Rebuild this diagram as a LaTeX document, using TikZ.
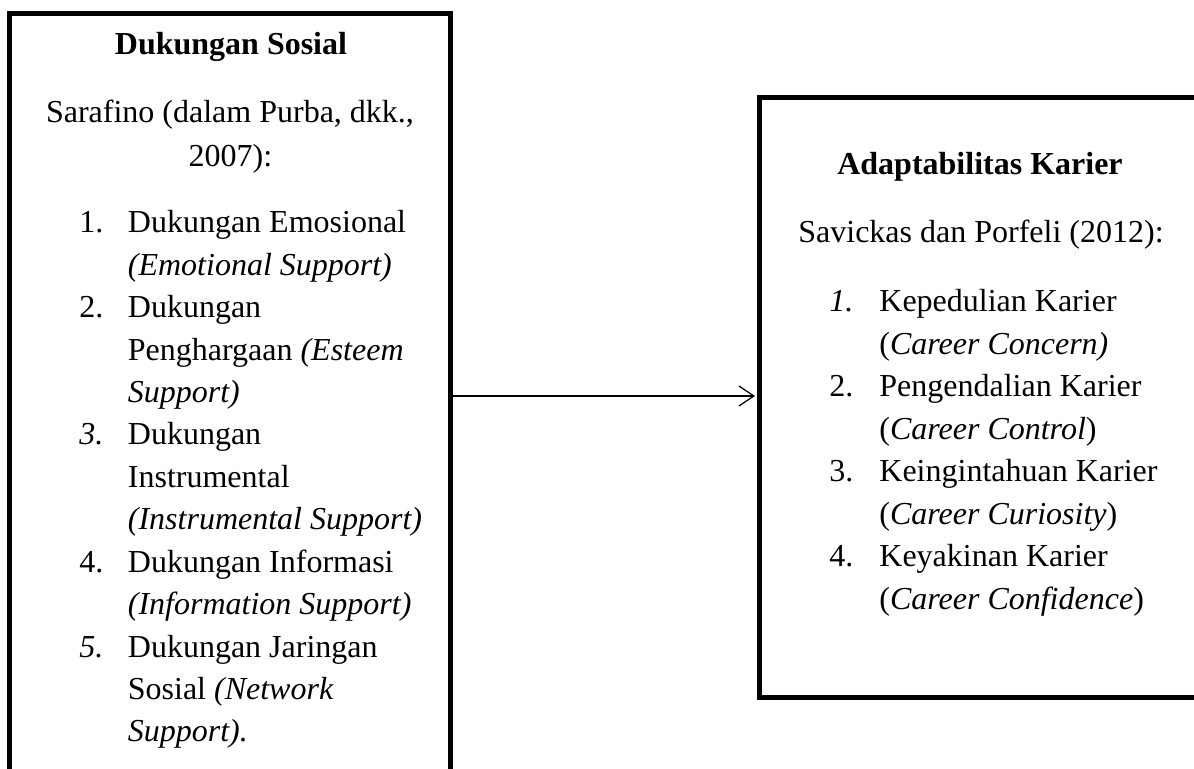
\documentclass[tikz,border=0pt]{standalone}
\usepackage{fontspec}
\setmainfont{Liberation Serif}
\usetikzlibrary{positioning, arrows.meta}
\newcommand{\bodyFont}{\fontsize{16}{21.2}\selectfont}
\tikzstyle{diagram} = [x = .5pt, y = -.5pt]
\tikzstyle{frameStyle} = [draw = black, line width = 2.5pt, inner sep = 0pt]
\tikzstyle{lineText} = [font = \bodyFont, inner sep = 0pt, anchor = base west]
\tikzstyle{centerText} = [lineText, anchor = base]
\tikzstyle{headText} = [centerText, font = \bodyFont\bfseries]
\tikzstyle{linkStyle} = [line width = .6pt, -{Straight Barb[length = 7.5pt, width = 10pt]}, shorten > = 1pt]
\newcommand{\leftSkip}{42.4}
\newcommand{\rightSkip}{42.43}

\begin{document}
\begin{tikzpicture}[diagram]
  \useasboundingbox (0,0) rectangle (1194,769);
  \clip (0,0) rectangle (1194,769);

  % kotak
  \node [frameStyle, minimum width = 220.25pt, minimum height = 382.5pt] (sosial) at (229.75,396) {};
  \node [frameStyle, minimum width = 227.75pt, minimum height = 300pt] (karier) at (987.25,397.5) {};
  \draw [linkStyle] (sosial.east) -- (sosial.east -| karier.west);

  % dukungan sosial
  \node [headText] (sosialTitle) at (231,55) {Dukungan Sosial};
  \node [centerText] (sosialSource) at (230,123) {Sarafino (dalam Purba, dkk.,};
  \node [centerText] (sosialYear) at (230.5,167) {2007):};
  \foreach \num/\row in {1./0, 2./2, \textit{3.}/5, 4./8, \textit{5.}/10} {
    \node [lineText] (sosialNum\row) at (79, 233 + \row * \leftSkip) {\num};
  }
  \foreach \txt [count = \row from 0] in {
      {Dukungan Emosional}, {\textit{(Emotional Support)}},
      {Dukungan}, {Penghargaan \textit{(Esteem}}, {\textit{Support)}},
      {Dukungan}, {Instrumental}, {\textit{(Instrumental Support)}},
      {Dukungan Informasi}, {\textit{(Information Support)}},
      {Dukungan Jaringan}, {Sosial \textit{(Network}}, {\textit{Support).}}} {
    \node [lineText] (sosialLine\row) at (127.5, 233 + \row * \leftSkip) {\txt};
  }

  % adaptabilitas karier
  \node [headText] (karierTitle) at (980,175) {Adaptabilitas Karier};
  \node [centerText] (karierSource) at (981,243) {Savickas dan Porfeli (2012):};
  \foreach \num/\row in {\textit{1.}/0, 2./2, 3./4, 4./6} {
    \node [lineText] (karierNum\row) at (829, 312 + \row * \rightSkip) {\num};
  }
  \foreach \txt [count = \row from 0] in {
      {Kepedulian Karier}, {(\textit{Career Concern)}},
      {Pengendalian Karier}, {(\textit{Career Control})},
      {Keingintahuan Karier}, {(\textit{Career Curiosity})},
      {Keyakinan Karier}, {(\textit{Career Confidence})}} {
    \node [lineText] (karierLine\row) at (879, 312 + \row * \rightSkip) {\txt};
  }
\end{tikzpicture}
\end{document}
